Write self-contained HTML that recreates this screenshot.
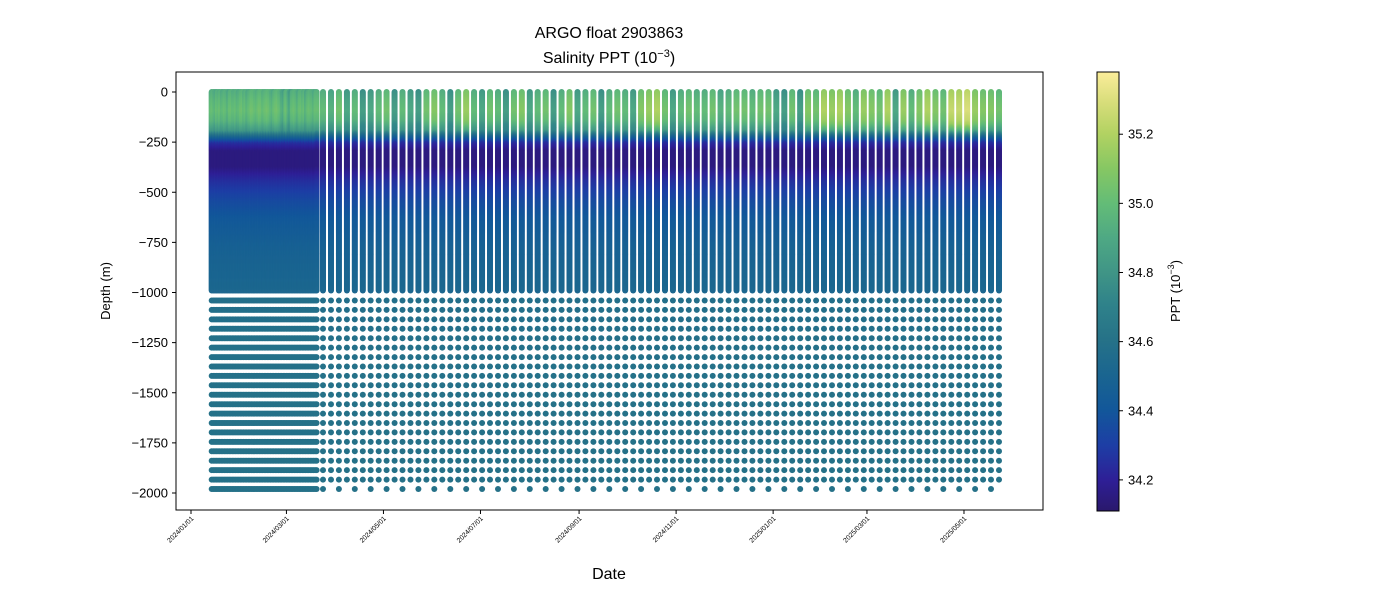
<!DOCTYPE html>
<html><head><meta charset="utf-8"><style>
html,body{margin:0;padding:0;background:#fff;}
svg{display:block;font-family:"Liberation Sans","DejaVu Sans",sans-serif;}
</style></head><body>
<svg id="chart" width="1400" height="600">
<defs><linearGradient id="cbgrad" x1="0" y1="1" x2="0" y2="0"></linearGradient></defs>
<text x="609" y="38" font-size="16" text-anchor="middle">ARGO float 2903863</text>
<text x="609" y="63" font-size="16" text-anchor="middle">Salinity PPT (10<tspan dy="-6" font-size="11">−3</tspan><tspan dy="6">)</tspan></text>
<g id="marks"></g>
<rect x="176" y="72" width="867" height="438" fill="none" stroke="#000" stroke-width="1"/>
<g id="yaxis"></g>
<g id="xaxis"></g>
<text transform="translate(110,291) rotate(-90)" font-size="13" text-anchor="middle">Depth (m)</text>
<text x="609" y="579" font-size="16" text-anchor="middle">Date</text>
<rect x="1097" y="72" width="22" height="439" fill="url(#cbgrad)" stroke="#000" stroke-width="1"/>
<g id="cbaxis"></g>
<text transform="translate(1180,291) rotate(-90)" font-size="13" text-anchor="middle">PPT (10<tspan dy="-6" font-size="9">−3</tspan><tspan dy="6">)</tspan></text>
</svg>
<script>
// ---- data ----
const denseDays = [13,14,15,16,17,18,19,20,21,22,23,24,25,26,27,28,29,30,31,32,33,34,35,36,37,38,39,40,41,42,43,44,45,46,47,48,49,50,51,52,53,54,55,56,57,58,59,60,61,62,63,64,65,66,67,68,69,70,71,72,73,74,75,76,77,78,79];
const denseAnom = [0,0.02,0,-0.03,0.02,0,0.03,-0.02,0,0.02,0,-0.04,0.02,0.03,0,0,0.02,-0.02,0,0.03,0.04,0,0.02,-0.03,0,0.03,0.05,0.04,0.02,0,0.03,0.05,0.04,0,0.02,0.04,0.05,0.03,0,-0.03,0.02,0.04,0.05,0.03,0,-0.05,-0.08,0.02,0.03,-0.05,-0.1,0,0.02,0.03,0,-0.04,0.02,0.03,0,0.02,-0.05,0,0.03,0.02,0,-0.03,0.02];
const sparseDays = [83,88,93,98,103,108,113,118,123,128,133,138,143,148,153,158,163,168,173,178,183,188,193,198,203,208,213,218,223,228,233,238,243,248,253,258,263,268,273,278,283,288,293,298,303,308,313,318,323,328,333,338,343,348,353,358,363,368,373,378,383,388,393,398,403,408,413,418,423,428,433,438,443,448,453,458,463,468,473,478,483,488,493,498,503,508];
const sparseAnom = [0.0,-0.05,0.05,-0.1,0.0,-0.15,-0.1,0.0,0.05,-0.15,0.0,-0.1,-0.15,
0.05,0.1,0.0,-0.15,0.05,0.15,0.0,-0.1,0.05,0.0,-0.15,0.05,0.1,-0.1,0.0,0.05,-0.15,0.0,0.1,-0.1,0.0,0.05,-0.15,0.0,
0.05,0.0,-0.1,0.1,0.15,0.2,0.05,-0.1,0.0,0.05,0.0,0.0,0.05,-0.05,0.0,
0.05,0.05,0.0,0.05,0.05,-0.1,-0.15,0.05,-0.15,0.1,0.05,0.2,
0.15,0.2,0.1,0.0,0.15,0.1,0.05,0.2,-0.1,0.15,0.0,0.1,0.2,0.1,0.05,0.25,0.25,0.3,0.15,0.1,0.1,0.05];
const knotDepth = [0,50,100,150,200,230,260,300,380,450,550,650,800,1000,1040,1500,2000];
const knotSal   = [34.92,34.97,35.0,34.95,34.8,34.5,34.25,34.15,34.15,34.25,34.35,34.42,34.48,34.52,34.58,34.6,34.6];
const deepLevels = [1040,1087,1134,1181,1228,1275,1322,1369,1416,1463,1510,1557,1604,1651,1698,1745,1792,1839,1886,1933,1980];
const yTicks = [0,-250,-500,-750,-1000,-1250,-1500,-1750,-2000];
const xTickDays = [0,60,121,182,244,305,366,425,486];
const xTickLabels = ["2024/01/01","2024/03/01","2024/05/01","2024/07/01","2024/09/01","2024/11/01","2025/01/01","2025/03/01","2025/05/01"];
const cbTicks = [34.2,34.4,34.6,34.8,35.0,35.2];
// ---- scales ----
const X = d => 191 + d*1.5905;
const Y = v => 92 - v*0.2005;
const vmin=34.11, vmax=35.38;
const CB = v => 511 - (v-vmin)/(vmax-vmin)*439;
const stops=[[0,"#2a186c"],[0.07,"#2e1f96"],[0.15,"#1d3ea5"],[0.23,"#12579a"],[0.31,"#1a6590"],[0.39,"#267288"],[0.47,"#2f828a"],[0.54,"#3f9486"],[0.62,"#4ea884"],[0.70,"#63bc77"],[0.78,"#86c763"],[0.86,"#b2d262"],[0.93,"#d7dd7a"],[1,"#fbed9a"]];
function hex(h){return [1,3,5].map(i=>parseInt(h.substr(i,2),16));}
function cmap(v){let t=(v-vmin)/(vmax-vmin);t=Math.max(0,Math.min(1,t));
 for(let i=1;i<stops.length;i++){if(t<=stops[i][0]){const a=hex(stops[i-1][1]),b=hex(stops[i][1]);const f=(t-stops[i-1][0])/(stops[i][0]-stops[i-1][0]);
 return "rgb("+a.map((c,k)=>Math.round(c+(b[k]-c)*f)).join(",")+")";}}return stops[stops.length-1][1];}
function meanSal(d){for(let i=1;i<knotDepth.length;i++){if(d<=knotDepth[i]){const f=(d-knotDepth[i-1])/(knotDepth[i]-knotDepth[i-1]);return knotSal[i-1]+(knotSal[i]-knotSal[i-1])*f;}}return knotSal[knotSal.length-1];}
function sal(d,a){let w=d<=170?1:(d>=240?0:(240-d)/70);return meanSal(d)+a*w;}
const NS="http://www.w3.org/2000/svg";
const marks=document.getElementById('marks');
let frag=document.createDocumentFragment();
function dot(x,y,c){const el=document.createElementNS(NS,'circle');
el.setAttribute('cx',x.toFixed(1));el.setAttribute('cy',y.toFixed(1));el.setAttribute('r','3');el.setAttribute('fill',c);


frag.appendChild(el);}
function profile(day,a,full){const x=X(day);
 for(let d=0;d<=990;d+=5){dot(x,Y(-d),cmap(sal(d,a)));}
 deepLevels.forEach((d,i)=>{if(i===deepLevels.length-1&&!full)return;dot(x,Y(-d),cmap(sal(d,a)));});}
denseDays.forEach((d,i)=>profile(d,denseAnom[i],true));
sparseDays.forEach((d,i)=>profile(d,sparseAnom[i],i%2===0));
marks.appendChild(frag);
// axes
const ya=document.getElementById('yaxis');
yTicks.forEach(v=>{const y=Y(v);
 const l=document.createElementNS(NS,'line');l.setAttribute('x1',172);l.setAttribute('x2',176);l.setAttribute('y1',y);l.setAttribute('y2',y);l.setAttribute('stroke','#000');
 
 ya.appendChild(l);
 const t=document.createElementNS(NS,'text');t.setAttribute('x',168);t.setAttribute('y',y+4.5);t.setAttribute('font-size','13');t.setAttribute('text-anchor','end');t.textContent=v===0?"0":"−"+(-v);
 
 ya.appendChild(t);});
const xa=document.getElementById('xaxis');
xTickDays.forEach((d,i)=>{const x=X(d);
 const l=document.createElementNS(NS,'line');l.setAttribute('x1',x);l.setAttribute('x2',x);l.setAttribute('y1',510);l.setAttribute('y2',514);l.setAttribute('stroke','#000');
 
 xa.appendChild(l);
 const t=document.createElementNS(NS,'text');t.setAttribute('transform','translate('+(x+3)+',519) rotate(-45)');t.setAttribute('font-size','6.8');t.setAttribute('text-anchor','end');t.textContent=xTickLabels[i];
 
 xa.appendChild(t);});
const grad=document.getElementById('cbgrad');
stops.forEach(s=>{const st=document.createElementNS(NS,'stop');st.setAttribute('offset',s[0]);st.setAttribute('stop-color',s[1]);grad.appendChild(st);});
const ca=document.getElementById('cbaxis');
cbTicks.forEach(v=>{const y=CB(v);
 const l=document.createElementNS(NS,'line');l.setAttribute('x1',1119);l.setAttribute('x2',1123);l.setAttribute('y1',y);l.setAttribute('y2',y);l.setAttribute('stroke','#000');
 
 ca.appendChild(l);
 const t=document.createElementNS(NS,'text');t.setAttribute('x',1128);t.setAttribute('y',y+4.5);t.setAttribute('font-size','13');t.textContent=v.toFixed(1);
 
 ca.appendChild(t);});
</script>
</body></html>
